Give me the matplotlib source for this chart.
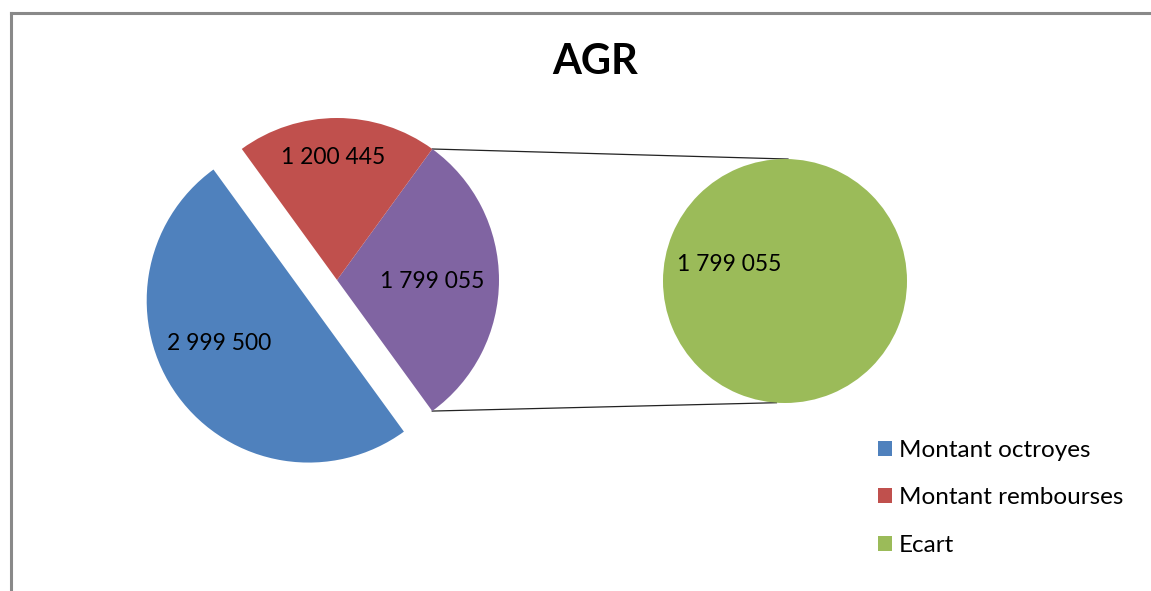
import numpy as np
import matplotlib.pyplot as plt
from matplotlib.lines import Line2D

plt.rcParams['font.family'] = ['Lato', 'DejaVu Sans']

# data
title = "AGR"
categories = ["Montant octroyes", "Montant rembourses", "Ecart"]
octroyes = 2999500
rembourses = 1200445
ecart = 1799055
labels_fmt = lambda v: f"{v:,}".replace(",", " ")

colors = {"octroyes": "#4F81BD", "rembourses": "#C0504D",
          "ecart_main": "#8064A2", "ecart": "#9BBB59"}

W, H = 1151, 591
fig = plt.figure(figsize=(W / 100, H / 100), dpi=100)
ax = fig.add_axes([0, 0, 1, 1])

# main pie (pixel coords, y up)
c1 = (337, H - 280)
r1 = 162
main_vals = [ecart, rembourses, octroyes]
# explode offset is in data units here
wedges1, _ = ax.pie(main_vals, startangle=-54, counterclock=True,
                    colors=[colors["ecart_main"], colors["rembourses"], colors["octroyes"]],
                    explode=[0, 0, 0.216 * r1], center=c1, radius=r1,
                    wedgeprops=dict(linewidth=0), frame=True)

# second pie: the "other" slice split out
c2 = (785, H - 281)
r2 = 122
wedges2, _ = ax.pie([ecart], colors=[colors["ecart"]], center=c2, radius=r2,
                    startangle=90, wedgeprops=dict(linewidth=0), frame=True)

ax.set_xlim(0, W)
ax.set_ylim(0, H)
ax.set_aspect('equal')
ax.axis('off')

# connector lines from the split slice to the second pie
w = wedges1[0]
for ang1, ang2 in [(w.theta2, 88.6), (w.theta1, -94.0)]:
    x1 = c1[0] + r1 * np.cos(np.radians(ang1))
    y1 = c1[1] + r1 * np.sin(np.radians(ang1))
    x2 = c2[0] + r2 * np.cos(np.radians(ang2))
    y2 = c2[1] + r2 * np.sin(np.radians(ang2))
    ax.plot([x1, x2], [y1, y2], color="#222222", lw=0.9, zorder=0)

# data labels
lab_kw = dict(fontsize=16.5, ha='center', va='center', color='black')
ax.text(219.5, H - 343, labels_fmt(octroyes), **lab_kw)
ax.text(333, H - 157.5, labels_fmt(rembourses), **lab_kw)
ax.text(432, H - 281.5, labels_fmt(ecart), **lab_kw)
ax.text(729, H - 264.5, labels_fmt(ecart), **lab_kw)

# title
ax.text(595, H - 62, title, fontsize=30, fontweight='bold', ha='center', va='center')

# legend
handles = [wedges1[2], wedges1[1], wedges2[0]]
leg = ax.legend(handles, categories, loc='upper left',
                bbox_to_anchor=(868 / W, 1 - 430 / H), bbox_transform=fig.transFigure,
                frameon=False, fontsize=17.5, handlelength=0.58, handleheight=0.58,
                handletextpad=0.3, labelspacing=1.09, borderaxespad=0)

# chart frame (only top and left edges visible in the crop)
fig.add_artist(Line2D([10.5 / W, 1.01], [1 - 12.5 / H, 1 - 12.5 / H],
                      transform=fig.transFigure, color="#898989", lw=2.2))
fig.add_artist(Line2D([10.5 / W, 10.5 / W], [1 - 12.5 / H, -0.01],
                      transform=fig.transFigure, color="#898989", lw=2.2))

fig.savefig("out.png", dpi=100)
